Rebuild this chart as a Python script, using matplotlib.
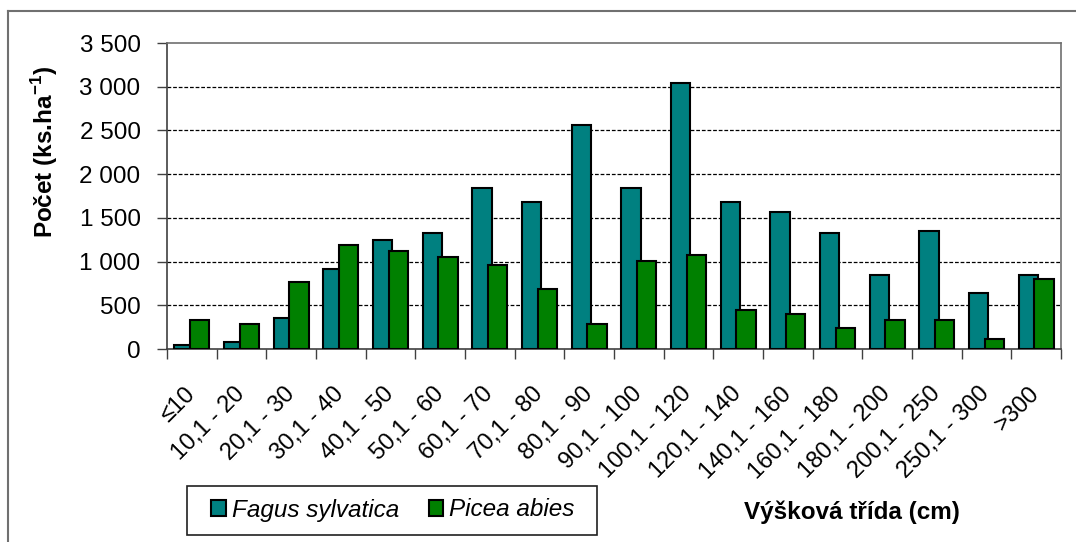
import matplotlib
matplotlib.use('Agg')
import matplotlib.pyplot as plt
from matplotlib.patches import Rectangle, Patch
from matplotlib.lines import Line2D
import numpy as np

plt.rcParams['font.family'] = ['Liberation Sans', 'DejaVu Sans']
plt.rcParams['mathtext.fontset'] = 'custom'
plt.rcParams['mathtext.rm'] = 'Liberation Sans'
plt.rcParams['mathtext.bf'] = 'Liberation Sans:bold'

# data
categories = ['≤10', '10,1 - 20', '20,1 - 30', '30,1 - 40', '40,1 - 50', '50,1 - 60',
              '60,1 - 70', '70,1 - 80', '80,1 - 90', '90,1 - 100', '100,1 - 120',
              '120,1 - 140', '140,1 - 160', '160,1 - 180', '180,1 - 200',
              '200,1 - 250', '250,1 - 300', '>300']
fagus = [50, 85, 360, 920, 1245, 1330, 1840, 1680, 2560, 1840, 3045, 1680,
         1565, 1325, 845, 1355, 640, 845]
picea = [330, 290, 770, 1195, 1125, 1050, 960, 685, 285, 1005, 1075, 445,
         400, 240, 330, 330, 120, 800]
y_ticks = [0, 500, 1000, 1500, 2000, 2500, 3000, 3500]
y_labels = ['0', '500', '1 000', '1 500', '2 000', '2 500', '3 000', '3 500']
series_names = ['Fagus sylvatica', 'Picea abies']

TEAL = '#008080'
GREEN = '#008000'
W, H = 1076, 542


def px(x, y):
    return x / W, 1 - y / H


fig = plt.figure(figsize=(10.76, 5.42), dpi=100)
ax = fig.add_axes([167 / W, 1 - 349 / H, (1061 - 167) / W, (349 - 43) / H])

x = np.arange(len(categories))
bw = 0.39
off = 0.156
ax.bar(x - off, fagus, bw, color=TEAL, edgecolor='black', linewidth=1.5, zorder=3)
ax.bar(x + off, picea, bw, color=GREEN, edgecolor='black', linewidth=1.5, zorder=4)

ax.set_xlim(-0.5, len(categories) - 0.5)
ax.set_ylim(0, 3500)

# gridlines
for v in y_ticks[1:-1]:
    ax.axhline(v, color='black', linewidth=0.9, linestyle=(0, (3, 1.5)), zorder=1)

ax.set_yticks(y_ticks)
ax.set_yticklabels(y_labels, fontsize=17.5)
ax.tick_params(axis='y', length=7, width=1, pad=12, color='#404040')

ax.set_xticks(x)
ax.set_xticklabels(categories, fontsize=17, rotation=45, ha='right', va='center',
                   rotation_mode='anchor')
ax.tick_params(axis='x', which='major', length=0, pad=30)
ax.set_xticks(np.arange(-0.5, len(categories)), minor=True)
ax.tick_params(axis='x', which='minor', length=7, width=1, color='#404040')

for s in ['left', 'bottom']:
    ax.spines[s].set_color('#404040')
    ax.spines[s].set_linewidth(1.2)
for s in ['top', 'right']:
    ax.spines[s].set_color('#707070')
    ax.spines[s].set_linewidth(1.2)

# axis titles
fig.text(*px(45, 152), r'Počet (ks.ha$^{\mathbf{-1}}$)', rotation=90,
         fontsize=17.5, fontweight='bold', ha='center', va='center')
fig.text(*px(852, 512), 'Výšková třída (cm)', fontsize=17.5, fontweight='bold',
         ha='center', va='center')

# legend with a drawn frame
handles = [Patch(facecolor=TEAL, edgecolor='black', linewidth=1.5),
           Patch(facecolor=GREEN, edgecolor='black', linewidth=1.5)]
fig.legend(handles, series_names, loc='center', bbox_to_anchor=px(393, 510),
           ncol=2, frameon=False, prop={'style': 'italic', 'size': 17.5},
           handlelength=0.6, handleheight=0.6, handletextpad=0.25,
           columnspacing=1.2, borderpad=0)
fig.patches.append(Rectangle(px(187, 535), (597 - 187) / W, (535 - 486) / H,
                             transform=fig.transFigure, fill=False,
                             edgecolor='#202020', linewidth=1.2))

# outer chart border (top and left)
fig.lines.append(Line2D([8 / W, 1], [1 - 11 / H, 1 - 11 / H], transform=fig.transFigure,
                        color='#707070', linewidth=1.5))
fig.lines.append(Line2D([8 / W, 8 / W], [0, 1 - 11 / H], transform=fig.transFigure,
                        color='#707070', linewidth=1.5))

fig.savefig('out.png', dpi=100)
